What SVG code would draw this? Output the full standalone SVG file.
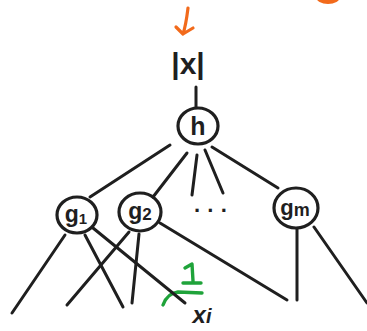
<svg xmlns="http://www.w3.org/2000/svg" width="367" height="331" viewBox="0 0 367 331">
<style>
.ln{stroke:#1f1f1f;stroke-width:3;stroke-linecap:round;fill:none}
.nd{stroke:#1f1f1f;stroke-width:3.2;fill:none}
.t{font-family:"Liberation Sans",Arial,sans-serif;fill:#1f1f1f;text-anchor:middle;font-weight:bold}
.or{stroke:#f26a1b;stroke-width:3.2;fill:none;stroke-linecap:round;stroke-linejoin:round}
.gr{stroke:#1fa33a;stroke-width:3.4;fill:none;stroke-linecap:round;stroke-linejoin:round}
</style>
<rect width="367" height="331" fill="#ffffff"/>
<g id="annotations">
<ellipse cx="328" cy="-3" rx="12" ry="7" fill="#f26a1b"/>
<path class="or" d="M188 8 C187 16 186 25 183 34 M176 27 L183 34 L193 28"/>
<path class="gr" d="M185 268 L192 264 L193 281 M183 283 L201 283"/>
<path class="gr" d="M163 305 C166 297 170 293 178 292 L202 293"/>
</g>
<g id="connectors">
<path class="ln" d="M196 87 L196 107"/>
<path class="ln" d="M170 145 L90 197"/>
<path class="ln" d="M187 153 L153 197"/>
<path class="ln" d="M197 155 L192 195"/>
<path class="ln" d="M205 150 L223 193"/>
<path class="ln" d="M212 147 L278 188"/>
<path class="ln" d="M65 235 L12 313"/>
<path class="ln" d="M85 235 L123 307"/>
<path class="ln" d="M93 228 L185 303"/>
<path class="ln" d="M129 232 L67 305"/>
<path class="ln" d="M139 234 L132 303"/>
<path class="ln" d="M160 223 L287 300"/>
<path class="ln" d="M297 229 L297 300"/>
<path class="ln" d="M314 227 L367 303"/>
</g>
<g id="node-x">
<text class="t" x="188" y="74" font-size="30">|x|</text>
</g>
<g id="node-h">
<ellipse class="nd" cx="198" cy="126" rx="20" ry="18"/>
<text class="t" x="198" y="135" font-size="25">h</text>
</g>
<g id="node-g1">
<ellipse class="nd" cx="77" cy="215" rx="20" ry="18"/>
<text class="t" x="76" y="222" font-size="23">g<tspan font-size="15" dy="2">1</tspan></text>
</g>
<g id="node-g2">
<ellipse class="nd" cx="140" cy="212" rx="21" ry="19"/>
<text class="t" x="140" y="219" font-size="23">g<tspan font-size="17" dy="1">2</tspan></text>
</g>
<g id="node-dots">
<text class="t" x="211" y="218" font-size="22">· · ·</text>
</g>
<g id="node-gm">
<ellipse class="nd" cx="296" cy="208" rx="22" ry="20"/>
<text class="t" x="295" y="215" font-size="22">g<tspan font-size="18" dy="1">m</tspan></text>
</g>
<g id="node-xi">
<text class="t" x="202" y="323" font-size="24" font-style="italic">x<tspan font-size="20">i</tspan></text>
</g>
</svg>
